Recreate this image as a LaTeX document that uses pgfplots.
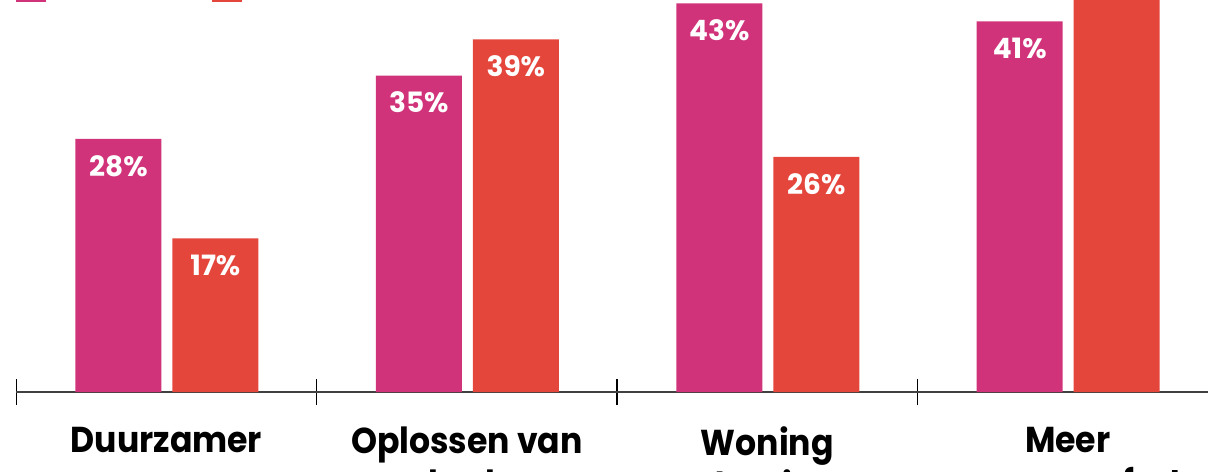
\documentclass[border=0pt]{standalone}
\usepackage{pgfplots}
\pgfplotsset{compat=1.18}
\usepackage{fontspec}
\setmainfont{Poppins}
\newfontfamily\catfont{Poppins}[FakeStretch=0.92]
\definecolor{roze}{RGB}{208,51,122}
\definecolor{rood}{RGB}{228,70,60}
\begin{document}
\begin{tikzpicture}
\useasboundingbox (-8.1pt,-39.5pt) rectangle (595.9pt,196pt);
\clip (-8.1pt,-39.5pt) rectangle (595.9pt,196pt);
\begin{axis}[
    scale only axis,
    width=595.9pt,
    height=196pt,
    xmin=-0.5, xmax=3.467,
    ymin=0, ymax=43.36,
    axis x line*=bottom,
    axis y line=none,
    x axis line style={line width=1.2pt, black!75},
    xtick={0,1,2,3},
    xticklabels={{\rule{0pt}{13pt}Duurzamer\\wonen},{\rule{0pt}{13pt}Oplossen van\\gebreken},
        {\rule{0pt}{13pt}Woning\\moderniseren},{\rule{0pt}{13pt}Meer\\wooncomfort}},
    major tick length=0pt,
    minor xtick={-0.5,0.5,1.5,2.5,3.5},
    minor tick length=13pt,
    minor tick style={black, line width=0.6pt, yshift=6.5pt},
    xticklabel style={align=center, anchor=north, inner sep=0pt, yshift=-17pt,
        font=\catfont\bfseries\fontsize{18}{21.5}\selectfont},
    /pgf/number format/assume math mode=true,
    ybar,
    bar width=43pt,
    nodes near coords={\pgfmathprintnumber{\pgfplotspointmeta}\%},
    every node near coord/.append style={anchor=north, yshift=-8pt, inner sep=0pt,
        text=white, font=\bfseries\fontsize{14}{16}\selectfont},
]
\addplot[fill=roze, draw=none, bar shift=-24pt] coordinates {(0,28) (1,35) (2,43) (3,41)};
\addplot[fill=rood, draw=none, bar shift=24.5pt] coordinates {(0,17) (1,39) (2,26) (3,47)};
% legenda (grotendeels buiten beeld)
\fill[roze] (axis cs:-0.5,43.14) rectangle (axis cs:-0.401,50);
\fill[rood] (axis cs:0.151,43.14) rectangle (axis cs:0.251,50);
\end{axis}
\end{tikzpicture}
\end{document}
